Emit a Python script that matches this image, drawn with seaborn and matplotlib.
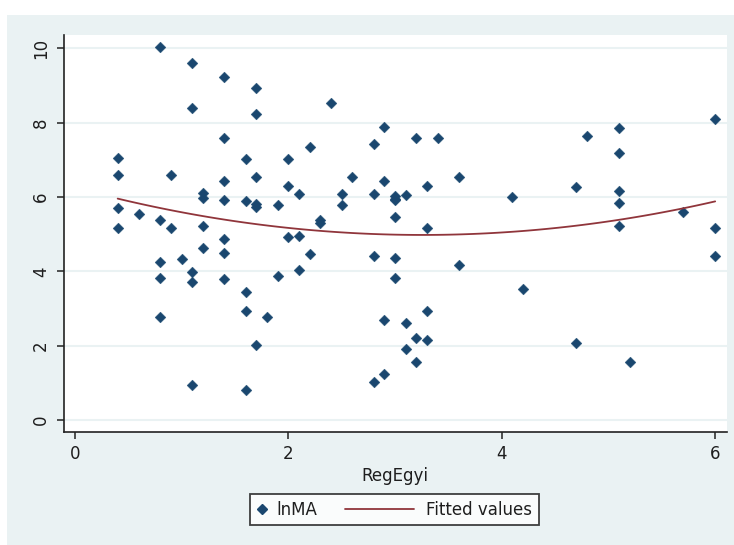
import numpy as np
import pandas as pd
import matplotlib
matplotlib.use("Agg")
import matplotlib.pyplot as plt
import seaborn as sns
from matplotlib.lines import Line2D
from matplotlib.legend_handler import HandlerBase

# ---- data ----
reg_egyi = [0.4, 0.4, 0.4, 0.4, 0.6,
            0.8, 0.8, 0.8, 0.8, 0.8,
            0.9, 0.9, 1.0,
            1.1, 1.1, 1.1, 1.1, 1.1,
            1.2, 1.2, 1.2, 1.2,
            1.4, 1.4, 1.4, 1.4, 1.4, 1.4, 1.4,
            1.6, 1.6, 1.6, 1.6, 1.6,
            1.7, 1.7, 1.7, 1.7, 1.7, 1.7,
            1.8, 1.9, 1.9,
            2.0, 2.0, 2.0,
            2.1, 2.1, 2.1,
            2.2, 2.2, 2.3, 2.3, 2.4,
            2.5, 2.5, 2.6,
            2.8, 2.8, 2.8, 2.8,
            2.9, 2.9, 2.9, 2.9,
            3.0, 3.0, 3.0, 3.0, 3.0, 3.0,
            3.1, 3.1, 3.1,
            3.2, 3.2, 3.2,
            3.3, 3.3, 3.3, 3.3,
            3.4, 3.6, 3.6,
            4.1, 4.2, 4.7, 4.7, 4.8,
            5.1, 5.1, 5.1, 5.1, 5.1,
            5.2, 5.7, 6.0, 6.0, 6.0]
ln_ma = [7.05, 6.59, 5.71, 5.16, 5.54,
         10.03, 5.38, 4.24, 3.83, 2.78,
         6.59, 5.16, 4.33,
         9.61, 8.39, 3.97, 3.70, 0.93,
         6.12, 5.96, 5.21, 4.62,
         9.24, 7.60, 6.42, 5.92, 4.87, 4.50, 3.78,
         7.02, 5.88, 3.45, 2.94, 0.82,
         8.93, 8.22, 6.55, 5.80, 5.74, 2.03,
         2.78, 5.79, 3.87,
         7.01, 6.30, 4.91,
         6.09, 4.96, 4.04,
         7.34, 4.46, 5.38, 5.29, 8.52,
         6.09, 5.79, 6.55,
         7.43, 6.09, 4.41, 1.02,
         7.89, 6.42, 2.70, 1.24,
         6.03, 5.95, 5.46, 4.37, 3.83, 5.92,
         6.04, 2.61, 1.90,
         7.60, 2.20, 1.57,
         6.30, 5.17, 2.94, 2.15,
         7.60, 6.55, 4.16,
         6.01, 3.53, 6.26, 2.06, 7.64,
         7.85, 7.17, 6.17, 5.85, 5.21,
         1.57, 5.60, 8.10, 5.17, 4.41]

x_ticks = [0, 2, 4, 6]
y_ticks = [0, 2, 4, 6, 8, 10]
x_label = "RegEgyi"
series_labels = ["lnMA", "Fitted values"]

df = pd.DataFrame({"RegEgyi": reg_egyi, "lnMA": ln_ma})

# ---- style ----
BG = "#eaf2f3"
NAVY = "#1a476f"
MAROON = "#90353b"
TXT = "#1e1e1e"
FS = 12

sns.set_theme(style="white")
plt.rcParams["font.family"] = ["DejaVu Sans"]

fig = plt.figure(figsize=(7.34, 5.45), dpi=100)
fig.patch.set_facecolor("white")
# Stata-like graph region (light blue), leaving white strip at top
fig.add_artist(plt.Rectangle((7 / 734, 0), 1 - 7 / 734, 1 - 15 / 545,
                             transform=fig.transFigure, facecolor=BG,
                             edgecolor="none", zorder=0))

ax = fig.add_axes([64 / 734, 1 - 431.7 / 545, (726.7 - 64) / 734, (431.7 - 35) / 545])
ax.set_facecolor("white")

sns.scatterplot(data=df, x="RegEgyi", y="lnMA", marker="D", color=NAVY,
                s=30, edgecolor=NAVY, linewidth=0.3, ax=ax, zorder=3, legend=False)
sns.regplot(data=df, x="RegEgyi", y="lnMA", order=2, scatter=False, ci=None,
            line_kws={"color": MAROON, "linewidth": 1.3, "zorder": 4}, ax=ax)

ax.set_xlim(-0.103, 6.108)
ax.set_ylim(-0.315, 10.358)
ax.set_xticks(x_ticks)
ax.set_yticks(y_ticks)
ax.set_xticklabels([str(t) for t in x_ticks], fontsize=FS, color=TXT)
ax.set_yticklabels([str(t) for t in y_ticks], fontsize=FS, color=TXT,
                   rotation=90, va="center")
ax.set_xlabel(x_label, fontsize=FS, color=TXT, labelpad=3)
ax.set_ylabel("")

ax.grid(axis="y", color=BG, linewidth=1.5, zorder=1)
ax.grid(axis="x", visible=False)
ax.set_axisbelow(True)

for side in ["top", "right"]:
    ax.spines[side].set_visible(False)
for side in ["left", "bottom"]:
    ax.spines[side].set_color("#222222")
    ax.spines[side].set_linewidth(1.2)
ax.tick_params(axis="both", direction="out", length=5, width=1.1, color="#222222",
               bottom=True, left=True)
ax.tick_params(axis="x", pad=4.5)
ax.tick_params(axis="y", pad=5)


class MarkerLeft(HandlerBase):
    def create_artists(self, legend, orig_handle, xdescent, ydescent, width,
                       height, fontsize, trans):
        m = Line2D([0.3 * width - xdescent], [height / 2 - ydescent],
                   marker="D", color=NAVY, linestyle="none", markersize=4.8)
        m.set_transform(trans)
        return [m]


class LongLine(HandlerBase):
    def create_artists(self, legend, orig_handle, xdescent, ydescent, width,
                       height, fontsize, trans):
        y = height / 2 - ydescent
        ln = Line2D([-44.9 - xdescent, 4.8 - xdescent], [y, y],
                    color=MAROON, linewidth=1.3)
        ln.set_transform(trans)
        return [ln]


h_marker = Line2D([], [], marker="D", color=NAVY, linestyle="none")
h_line = Line2D([], [], color=MAROON)
leg = fig.legend([h_marker, h_line], series_labels, loc="center",
                 bbox_to_anchor=(394.5 / 734, 1 - 509.6 / 545), ncol=2,
                 frameon=True, fancybox=False, fontsize=FS, handlelength=1.0,
                 columnspacing=5.4, handletextpad=0.16, borderpad=0.4,
                 handler_map={h_marker: MarkerLeft(), h_line: LongLine()})
leg.get_frame().set_edgecolor("#111111")
leg.get_frame().set_linewidth(1.3)
leg.get_frame().set_facecolor("white")
for t in leg.get_texts():
    t.set_color(TXT)

fig.savefig("out.png", dpi=100, facecolor=fig.get_facecolor())
